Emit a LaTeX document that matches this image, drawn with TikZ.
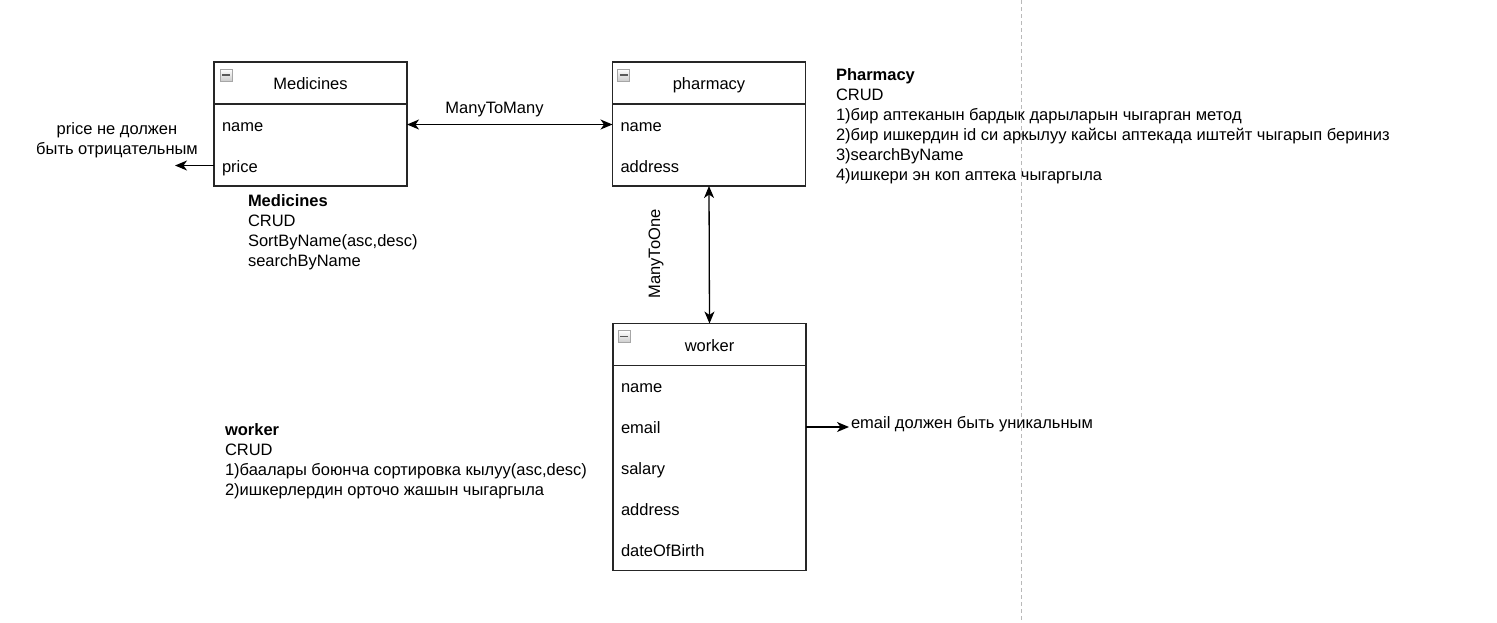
\documentclass[tikz,border=0pt]{standalone}
\usepackage{fontspec}
\setmainfont{Liberation Sans}
\usetikzlibrary{positioning,arrows.meta}
\begin{document}
\begin{tikzpicture}[x=1pt, y=-1pt, line width=1.3pt, >={Stealth[length=12pt,width=10pt,inset=3.5pt]},
	every node/.style={font=\fontsize{16.5}{20}\selectfont, outer sep=0pt},
	head/.style={draw=black!85, minimum width=193pt, minimum height=42pt, text height=15pt, text depth=1.5pt, inner sep=0pt},
	field/.style={minimum height=41pt, text width=177pt, inner sep=8pt, align=left, text height=15pt, text depth=1.5pt},
	toggle/.style={draw=gray!70, top color=white, bottom color=gray!40, minimum size=12pt, inner sep=0pt, line width=0.6pt,
		path picture={\draw[black!65, line width=1.6pt] ([xshift=2pt]path picture bounding box.west) -- ([xshift=-2pt]path picture bounding box.east);}},
	note/.style={align=left, inner sep=0pt, anchor=north west},
	link/.style={<->},
	pointer/.style={->}]
		\useasboundingbox (0,0) rectangle (1497,622);
		\draw[gray!55, line width=1pt, dash pattern=on 3.5pt off 3.5pt] (1021,0) -- (1021,622);
		% Medicines
		\node[head] (medhead) at (310.5,83) {Medicines};
		\node[field, below=0pt of medhead] (medname) {name};
		\node[field, below=0pt of medname] (medprice) {price};
		\draw[black!85] (medname.north west) rectangle (medprice.south east);
		\node[toggle] (medtoggle) at ([xshift=12pt,yshift=-13pt]medhead.north west) {};
		% pharmacy
		\node[head] (phhead) at (709,83) {pharmacy};
		\node[field, below=0pt of phhead] (phname) {name};
		\node[field, below=0pt of phname] (phaddress) {address};
		\draw[black!85] (phname.north west) rectangle (phaddress.south east);
		\node[toggle] (phtoggle) at ([xshift=11pt,yshift=-13pt]phhead.north west) {};
		% worker
		\node[head] (wkhead) at (709.5,344.5) {worker};
		\node[field, below=0pt of wkhead] (wkname) {name};
		\node[field, below=0pt of wkname] (wkemail) {email};
		\node[field, below=0pt of wkemail] (wksalary) {salary};
		\node[field, below=0pt of wksalary] (wkaddress) {address};
		\node[field, below=0pt of wkaddress] (wkbirth) {dateOfBirth};
		\draw[black!85] (wkname.north west) rectangle (wkbirth.south east);
		\node[toggle] (wktoggle) at ([xshift=11pt,yshift=-13pt]wkhead.north west) {};
		% relations
		\draw[link] (medname.east) -- (phname.west);
		\node (manytomany) at (494.5,110) {ManyToMany};
		\draw[link] (phaddress.south) -- (wkhead.north);
		\node[rotate=90] (manytoone) at (656,254) {ManyToOne};
		% notes
		\node[align=center, inner sep=0pt] (pricenote) at (117,140) {price не должен\\быть отрицательным};
		\coordinate (pricetip) at ([xshift=-39pt]medprice.west);
		\draw[pointer] (medprice.west) -- (pricetip);
		\node[anchor=west, inner sep=0pt] (emailnote) at (851,424) {email должен быть уникальным};
		\coordinate (emailtip) at ([xshift=43pt]wkemail.east);
		\draw[pointer] (wkemail.east) -- (emailtip);
		\node[note] (mednote) at (248,195) {\textbf{Medicines}\\CRUD\\SortByName(asc,desc)\\searchByName};
		\node[note] (phnote) at (836,69) {\textbf{Pharmacy}\\CRUD\\1)бир аптеканын бардык дарыларын чыгарган метод\\2)бир ишкердин id си аркылуу кайсы аптекада иштейт чыгарып бериниз\\3)searchByName\\4)ишкери эн коп аптека чыгаргыла};
		\node[note] (wknote) at (225,424) {\textbf{worker}\\CRUD\\1)баалары боюнча сортировка кылуу(asc,desc)\\2)ишкерлердин орточо жашын чыгаргыла};
	\end{tikzpicture}
\end{document}
